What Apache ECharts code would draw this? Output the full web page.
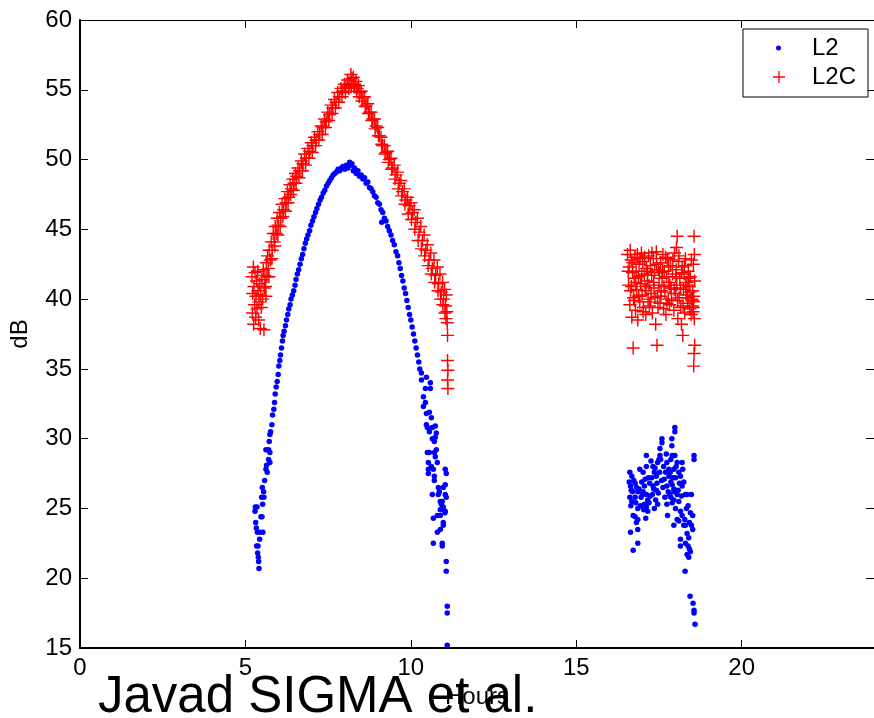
<!DOCTYPE html>
<html>
<head>
<meta charset="utf-8">
<script src="https://cdn.jsdelivr.net/npm/echarts@6/dist/echarts.min.js"></script>
<style>
html,body{margin:0;padding:0;background:#fff;}
#chart{width:874px;height:718px;}
</style>
</head>
<body>
<div id="chart"></div>
<script>
// ---- data: [hours, dB] ----
const xTicks = [0, 5, 10, 15, 20];
const yTicks = [15, 20, 25, 30, 35, 40, 45, 50, 55, 60];

// L2 first pass (arc)
const l2PassA = [
[5.29,24.8],[5.30,25.1],[5.31,24.0],[5.33,23.6],[5.34,22.3],[5.35,25.1],[5.36,23.3],[5.37,21.8],[5.38,22.3],[5.39,21.5],
[5.40,21.2],[5.41,20.7],[5.43,22.8],[5.45,23.3],[5.47,24.4],[5.50,24.4],[5.53,23.3],[5.52,25.3],[5.49,25.8],[5.56,25.8],
[5.51,26.5],[5.55,26.2],[5.58,27.0],[5.62,27.8],[5.66,27.6],[5.64,28.1],[5.70,28.5],[5.74,28.3],[5.62,29.2],[5.70,29.2],
[5.74,29.0],[5.72,29.8],[5.74,30.3],[5.76,30.5],[5.80,31.0],[5.82,31.7],[5.86,32.1],[5.88,32.6],[5.90,33.2],[5.93,33.7],
[5.96,34.1],[5.99,34.6],[6.01,35.2],[6.04,35.6],[6.06,36.0],[6.09,36.5],[6.12,37.0],[6.14,37.4],[6.17,37.7],[6.21,38.1],
[6.24,38.5],[6.28,38.9],[6.31,39.3],[6.35,39.6],[6.38,40.0],[6.42,40.3],[6.46,40.6],[6.50,41.0],[6.53,41.4],[6.57,41.8],
[6.61,42.1],[6.65,42.5],[6.69,42.9],[6.73,43.2],[6.77,43.6],[6.81,44.0],[6.85,44.3],[6.89,44.6],[6.94,44.9],[6.98,45.3],
[7.03,45.6],[7.07,45.9],[7.12,46.2],[7.16,46.5],[7.21,46.8],[7.26,47.1],[7.30,47.3],[7.35,47.6],[7.40,47.8],[7.45,48.1],
[7.50,48.3],[7.55,48.5],[7.60,48.7],[7.65,48.9],[7.70,49.0],[7.75,49.1],[7.80,49.3],[7.85,49.2],[7.90,49.4],[7.95,49.5],
[8.00,49.3],[8.05,49.6],[8.10,49.4],[8.15,49.8],[8.18,49.6],[8.22,49.7],[8.26,49.2],[8.30,49.4],[8.35,49.0],[8.40,49.2],
[8.45,48.8],[8.50,48.9],[8.55,48.6],[8.60,48.7],[8.65,48.3],[8.70,48.4],[8.75,48.0],[8.80,47.9],[8.85,47.7],[8.90,47.4],
[8.95,47.3],[9.00,46.9],[9.05,46.8],[9.10,46.4],[9.12,45.5],[9.15,46.2],[9.20,45.8],[9.25,45.6],[9.30,45.2],[9.35,44.9],
[9.40,44.6],[9.45,44.2],[9.50,43.9],[9.55,43.4],[9.60,43.1],[9.64,42.6],[9.68,42.2],[9.72,41.7],[9.76,41.3],[9.80,40.8],
[9.84,40.4],[9.88,39.9],[9.92,39.4],[9.96,38.9],[10.00,38.5],[10.04,38.0],[10.08,37.5],[10.12,37.0],[10.16,36.5],[10.20,36.0],
[10.24,35.5],[10.27,35.0],
[10.32,34.7],[10.47,34.4],[10.32,34.2],[10.59,34.0],[10.44,33.6],[10.59,33.6],[10.38,33.0],[10.44,32.6],[10.38,32.3],[10.47,31.8],
[10.56,31.9],[10.62,31.5],[10.47,31.0],[10.50,30.8],[10.56,30.5],[10.65,30.8],[10.74,30.9],[10.77,30.4],[10.74,30.1],[10.65,30.0],
[10.71,29.8],[10.77,29.2],[10.71,29.0],[10.50,29.0],[10.56,29.0],[10.74,28.7],[10.53,28.3],[10.80,28.3],[10.62,28.0],[10.68,27.8],
[10.53,27.8],[10.53,27.5],[10.71,27.3],[10.71,27.0],[11.04,27.8],[11.07,27.5],[11.04,26.7],[10.98,26.5],[10.83,26.5],[10.86,26.2],
[10.83,26.0],[10.65,26.0],[11.04,26.0],[11.07,25.8],[10.89,25.5],[10.95,25.5],[10.92,25.3],[10.98,25.1],[10.89,24.9],[10.95,25.0],
[11.04,24.8],[11.03,24.7],[10.80,24.5],[10.89,24.5],[10.68,24.3],[10.98,24.0],[10.98,23.8],[10.89,23.5],[10.80,23.3],[10.95,22.5],
[10.95,22.3],[10.68,22.5],[11.07,21.2],[11.07,20.5],[11.10,18.0],[11.10,17.5],[11.10,15.2]
];

// L2 second pass (cluster)
const l2PassB = [
[16.62,27.6],[16.68,27.3],[16.60,26.9],[16.64,26.6],[16.70,26.2],[16.62,25.8],[16.68,25.5],[16.65,25.2],[16.72,24.5],[16.64,23.3],
[16.72,22.0],[16.78,26.8],[16.82,26.5],[16.86,26.2],[16.78,25.8],[16.80,25.4],[16.86,25.0],[16.78,24.4],[16.86,24.2],[16.82,24.0],
[16.86,23.5],[16.86,22.5],[16.92,27.8],[16.98,26.9],[17.02,27.6],[17.06,26.6],[17.02,26.2],[17.12,26.0],[16.96,25.8],[17.16,25.6],
[17.06,25.3],[17.12,25.1],[17.20,25.4],[17.10,24.3],[17.16,24.8],[17.12,28.8],[17.12,28.0],[17.22,26.8],[17.04,24.9],
[17.32,28.0],[17.36,27.6],[17.28,27.2],[17.42,27.3],[17.32,26.6],[17.42,26.3],[17.30,26.0],[17.40,25.6],[17.46,25.3],[17.36,25.0],
[17.46,28.3],[17.50,28.5],[17.44,26.8],[17.52,27.6],[17.59,30.0],[17.59,29.7],[17.53,29.3],[17.53,28.8],[17.55,28.5],
[17.64,28.0],[17.70,27.6],[17.74,28.3],[17.66,27.1],[17.80,27.3],[17.86,26.9],[17.74,26.6],[17.90,26.7],[17.78,26.2],[17.86,25.8],
[17.74,25.3],[17.76,24.5],[17.90,25.4],[17.95,26.2],[17.89,30.0],[17.89,29.5],[17.90,28.8],[17.86,28.5],[17.80,27.8],
[17.98,30.8],[17.98,30.5],[17.98,28.8],[18.05,28.3],[18.20,28.3],[17.95,27.8],[18.10,27.6],[18.00,27.2],[18.15,27.3],[18.25,26.9],
[17.95,26.4],[18.08,26.3],[18.20,26.6],[18.05,26.0],[18.30,26.0],[17.95,25.6],[18.10,25.5],[18.00,25.0],[18.15,24.8],[18.20,24.5],
[18.05,24.2],[17.95,23.8],[18.10,24.1],[18.25,23.8],[18.30,23.8],[18.15,22.8],[18.15,22.3],[18.29,20.5],
[18.35,26.0],[18.48,26.0],[18.38,25.2],[18.45,24.7],[18.52,24.5],[18.48,23.8],[18.52,23.5],[18.35,23.2],[18.40,22.9],[18.30,22.5],
[18.38,22.3],[18.42,22.1],[18.35,21.7],[18.40,21.5],[18.45,21.9],[18.56,28.8],[18.56,28.5],[18.44,18.7],[18.53,18.2],[18.56,17.7],
[18.56,17.5],[18.59,16.7],
[16.66,26.3],[16.74,27.0],[16.90,26.4],[16.94,25.2],[17.00,26.0],[17.08,27.1],[17.18,27.2],[17.24,25.9],[17.26,28.4],[17.34,26.4],
[17.38,27.9],[17.48,26.1],[17.58,27.0],[17.62,26.5],[17.68,25.8],[17.72,28.9],[17.82,26.0],[17.84,27.6],[17.92,27.2],[18.02,28.0],
[18.12,26.8],[18.18,25.9],[18.22,27.8],[18.28,24.2],[18.33,25.0],[18.42,24.0]
];

// L2C first pass (arc)
const l2cPassA = [
[5.20,41.6],[5.21,39.0],[5.22,40.4],[5.24,42.3],[5.25,38.2],[5.26,40.9],[5.28,39.6],[5.29,41.9],[5.31,38.7],[5.32,40.2],
[5.34,41.3],[5.35,39.3],[5.37,42.0],[5.38,40.6],[5.40,38.5],[5.41,39.8],[5.43,41.1],[5.45,37.9],[5.46,40.3],[5.48,39.4],
[5.50,41.4],[5.52,40.0],[5.54,42.1],[5.56,37.8],[5.57,40.8],[5.59,41.7],[5.61,40.9],[5.63,42.6],[5.65,41.6],[5.67,43.1],
[5.69,42.2],[5.72,43.5],[5.75,42.8],[5.78,44.1],[5.81,43.5],[5.84,44.7],[5.87,44.1],[5.90,45.2],[5.93,44.7],[5.96,45.8],
[5.99,45.3],[6.03,46.2],[6.07,45.8],[6.11,46.8],[6.15,46.4],[6.19,47.2],[6.23,46.9],[6.27,47.7],[6.31,47.3],[6.35,48.2],
[6.39,47.9],[6.43,48.6],[6.47,48.3],[6.51,49.0],[6.55,48.8],[6.59,49.4],[6.64,49.2],[6.69,49.9],[6.74,49.7],[6.79,50.4],
[6.84,50.1],[6.89,50.8],[6.94,50.6],[6.99,51.2],[7.04,51.0],[7.09,51.6],[7.14,51.4],[7.19,52.0],[7.24,51.8],[7.29,52.4],
[7.34,52.3],[7.39,52.9],[7.44,52.7],[7.49,53.4],[7.54,53.2],[7.59,53.9],[7.64,53.7],[7.69,54.3],[7.74,54.1],[7.79,54.8],
[7.84,54.5],[7.89,55.1],[7.94,54.9],[7.99,55.4],[8.04,55.2],[8.09,55.7],[8.14,55.4],[8.19,56.1],[8.22,55.8],[8.26,55.9],
[8.30,55.4],[8.34,55.6],[8.38,55.1],[8.42,55.3],[8.46,54.8],[8.50,54.9],[8.55,54.4],[8.60,54.5],[8.65,53.9],[8.70,54.0],
[8.75,53.4],[8.80,53.4],[8.85,52.9],[8.90,52.9],[8.95,52.4],[9.00,52.3],[9.05,51.7],[9.10,51.6],[9.15,51.0],[9.20,51.0],
[9.25,50.5],[9.30,50.6],[9.35,50.0],[9.40,50.1],[9.45,49.4],[9.50,49.6],[9.55,48.9],[9.60,49.1],[9.65,48.3],[9.70,48.5],
[9.75,47.7],[9.80,47.9],[9.85,47.1],[9.90,47.3],[9.95,46.7],[10.00,46.9],[10.05,46.2],[10.10,46.4],[10.15,45.5],[10.20,45.8],
[10.25,44.8],[10.30,45.2],[10.35,44.2],[10.40,44.6],[10.45,43.5],[10.50,43.9],[10.55,42.8],[10.60,43.3],[10.65,42.2],[10.70,42.8],
[10.75,41.7],[10.80,42.3],[10.84,41.1],[10.88,41.8],[10.92,40.5],[10.96,41.2],[10.99,40.0],[11.02,40.7],[11.05,39.5],[11.07,40.3],
[11.09,39.1],[11.10,38.3],[11.11,37.4],[11.11,35.6],[11.12,34.9],[11.11,34.2],[11.12,33.6],
[5.62,40.2],[5.71,41.6],[5.80,42.9],[5.89,43.8],[5.98,44.6],[6.05,45.2],[6.13,45.9],[6.21,46.3],[6.29,46.9],[6.37,47.5],
[6.45,47.8],[6.53,48.3],[6.62,48.7],[6.72,49.2],[6.82,49.6],[6.92,50.1],[7.02,50.5],[7.12,51.0],[7.22,51.4],[7.32,51.8],
[7.42,52.3],[7.52,52.8],[7.62,53.3],[7.72,53.7],[7.82,54.1],[7.92,54.5],[8.02,54.8],[8.12,55.1],[8.20,55.3],[8.28,55.2],
[8.36,54.9],[8.44,54.5],[8.52,54.2],[8.62,53.8],[8.72,53.3],[8.82,52.8],[8.92,52.2],[9.02,51.7],[9.12,51.1],[9.22,50.4],
[9.32,49.8],[9.42,49.3],[9.52,48.6],[9.62,47.9],[9.72,47.4],[9.82,46.8],[9.92,46.1],[10.02,45.7],[10.12,45.0],[10.22,44.2],
[10.32,43.6],[10.42,43.1],[10.52,42.4],[10.62,41.8],[10.72,41.2],[10.82,40.6],[10.90,40.0],[10.97,39.6],[11.03,39.0],[11.06,38.6]
];

// L2C second pass (cluster)
const l2cPassB = [
[16.55,43.2],[16.58,41.0],[16.60,42.3],[16.62,39.6],[16.64,40.6],[16.66,42.8],[16.68,38.7],[16.70,41.9],[16.72,36.5],[16.73,40.1],
[16.75,41.5],[16.77,43.0],[16.79,39.2],[16.81,42.0],[16.83,40.7],[16.86,38.5],[16.88,41.6],[16.90,42.5],[16.92,39.8],[16.95,41.1],
[16.97,43.3],[16.99,40.3],[17.01,42.7],[17.03,39.4],[17.06,41.8],[17.08,40.9],[17.10,38.9],[17.12,42.2],[17.15,41.3],[17.17,40.0],
[17.19,43.1],[17.21,39.5],[17.24,42.4],[17.26,40.4],[17.28,41.7],[17.30,39.0],[17.33,42.9],[17.35,40.8],[17.37,41.9],[17.40,38.2],
[17.42,43.4],[17.44,36.7],[17.46,40.2],[17.48,42.1],[17.50,41.0],[17.53,39.7],[17.55,42.6],[17.57,40.6],[17.59,41.5],[17.62,43.2],
[17.64,39.3],[17.66,42.0],[17.68,40.5],[17.71,38.9],[17.73,41.6],[17.75,42.9],[17.78,40.0],[17.80,41.2],[17.82,39.6],[17.85,42.4],
[17.87,40.8],[18.03,43.7],[17.91,41.8],[18.05,44.5],[17.95,39.2],[17.97,43.3],[18.00,40.4],[18.02,42.1],[18.04,41.0],[18.07,38.6],
[18.09,42.7],[18.11,40.1],[18.13,41.5],[18.16,39.4],[18.18,38.2],[18.20,42.3],[18.22,37.4],[18.24,40.7],[18.26,41.8],[18.28,39.0],
[18.30,42.9],[18.32,40.3],[18.35,41.2],[18.37,39.7],[18.39,42.0],[18.41,40.9],[18.43,39.3],[18.45,41.6],[18.47,38.9],[18.49,40.0],
[18.51,39.5],[18.52,40.6],[18.54,42.5],[18.55,39.8],[18.56,44.5],[18.57,43.2],[18.57,38.6],[18.58,36.7],[18.56,36.1],[18.55,35.2],
[18.58,41.3],[18.53,39.1],
[16.57,42.0],[16.63,43.5],[16.67,40.9],[16.71,42.6],[16.76,39.9],[16.80,41.2],[16.85,43.2],[16.89,40.2],[16.93,42.9],[16.98,41.7],
[17.02,39.1],[17.07,43.0],[17.11,40.6],[17.16,42.0],[17.20,41.0],[17.25,39.8],[17.29,43.3],[17.34,41.2],[17.38,40.1],[17.43,42.5],
[17.47,39.4],[17.52,41.9],[17.56,40.2],[17.61,42.0],[17.65,40.9],[17.70,43.0],[17.74,39.7],[17.79,42.3],[17.83,41.0],[17.88,39.9],
[17.92,42.8],[17.96,40.7],[18.01,41.6],[18.06,39.9],[18.10,43.1],[18.15,40.8],[18.19,41.9],[18.23,39.5],[18.27,42.4],[18.31,41.0],
[18.36,40.1],[18.40,41.5],[18.44,40.5],[18.48,42.8],[18.52,39.9],[18.55,40.2],[18.54,39.4]
];

const FONT = '"Liberation Sans", Arial, Helvetica, sans-serif';
const PLUS = 'path://M0,4.45H10V5.55H0Z M4.45,0H5.55V10H4.45Z';

const chart = echarts.init(document.getElementById('chart'), null, {renderer: 'canvas'});
const tickCommon = {show: true, inside: true, length: 8, lineStyle: {color: '#000', width: 1}};

chart.setOption({
  animation: false,
  backgroundColor: '#fff',
  grid: {left: 80, top: 20, width: 798, height: 628, containLabel: false},
  xAxis: [
    {type: 'value', min: 0, max: 24, interval: 5, position: 'bottom',
     axisLine: {show: true, onZero: false, lineStyle: {color: '#000', width: 2}},
     axisTick: tickCommon,
     axisLabel: {fontSize: 24, color: '#000', fontFamily: FONT, margin: 8, showMaxLabel: false},
     splitLine: {show: false},
     name: 'Hours', nameLocation: 'middle', nameGap: 32,
     nameTextStyle: {fontSize: 24, color: '#000', fontFamily: FONT}},
    {type: 'value', min: 0, max: 24, interval: 5, position: 'top',
     axisLine: {show: true, onZero: false, lineStyle: {color: '#000', width: 1}},
     axisTick: tickCommon, axisLabel: {show: false}, splitLine: {show: false}}
  ],
  yAxis: [
    {type: 'value', min: 15, max: 60, interval: 5, position: 'left',
     axisLine: {show: true, onZero: false, lineStyle: {color: '#000', width: 2}},
     axisTick: tickCommon,
     axisLabel: {fontSize: 24, color: '#000', fontFamily: FONT, margin: 8},
     splitLine: {show: false},
     name: 'dB', nameLocation: 'middle', nameGap: 48, nameRotate: 90,
     nameTextStyle: {fontSize: 24, color: '#000', fontFamily: FONT}},
    {type: 'value', min: 15, max: 60, interval: 5, position: 'right',
     axisLine: {show: true, onZero: false, lineStyle: {color: '#000', width: 1}},
     axisTick: tickCommon, axisLabel: {show: false}, splitLine: {show: false}}
  ],
  legend: [
    {data: [{name: 'L2', icon: 'circle'}], orient: 'vertical', left: 776, top: 36, padding: 0,
     itemWidth: 5, itemHeight: 5, z: 10,
     textStyle: {fontSize: 24, color: '#000', fontFamily: FONT, padding: [0, 0, 0, 26]}},
    {data: [{name: 'L2C', icon: PLUS}], orient: 'vertical', left: 773, top: 65, padding: 0,
     itemWidth: 12, itemHeight: 12, z: 10,
     textStyle: {fontSize: 24, color: '#000', fontFamily: FONT, padding: [0, 0, 0, 22]}}
  ],
  graphic: [
    {type: 'rect', z: 3, shape: {x: 743, y: 29, width: 125, height: 68},
     style: {fill: '#fff', stroke: '#000', lineWidth: 1}},
    {type: 'text', z: 20, left: 98, top: 672,
     style: {text: 'Javad SIGMA et al.', fill: '#000', font: '51px ' + FONT}}
  ],
  series: [
    {name: 'L2', type: 'scatter', xAxisIndex: 0, yAxisIndex: 0,
     data: l2PassA.concat(l2PassB), symbol: 'circle', symbolSize: 5.5,
     itemStyle: {color: '#0000ff', opacity: 1}},
    {name: 'L2C', type: 'scatter', xAxisIndex: 0, yAxisIndex: 0,
     data: l2cPassA.concat(l2cPassB), symbol: PLUS, symbolSize: 13,
     itemStyle: {color: '#ff0000', opacity: 1}}
  ]
});
</script>
</body>
</html>
